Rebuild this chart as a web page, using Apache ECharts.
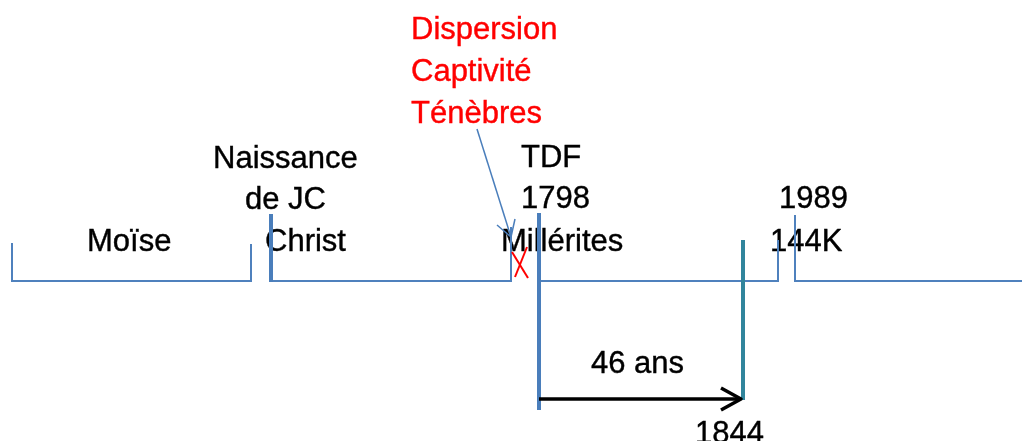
<!DOCTYPE html>
<html>
<head>
<meta charset="utf-8">
<script src="https://cdn.jsdelivr.net/npm/echarts@6/dist/echarts.min.js"></script>
<style>html,body{margin:0;padding:0;background:#fff}#c{width:1022px;height:441px}</style>
</head>
<body>
<div id="c"></div>
<script>
// Diagram geometry, in the chart's own 0..1022 x 0..441 value space
const thinBlueLines = [
  [[12, 243], [12, 281], [251, 281], [251, 244]],
  [[271, 281], [511, 281], [511, 227]],
  [[539, 281], [778, 281], [778, 240]],
  [[795, 215], [795, 281], [1022, 281]]
];
const thickBlueLines = [
  [[271, 214], [271, 282]],
  [[539, 213], [539, 410]]
];
const tealLines = [
  [[743, 240], [743, 400]]
];
const redCross = [
  [[512, 252], [528, 278]],
  [[527, 247], [515, 277]]
];
const pointerArrow = [
  [[477, 129], [511, 237]],
  [[497, 225], [511, 237], [515, 219]]
];
const spanArrow = [
  [[539, 399], [741, 399]],
  [[721, 388], [741, 399], [721, 410]]
];
// Text labels
const labelTexts = ['Dispersion', 'Captivité', 'Ténèbres', 'Naissance', 'de JC', 'Christ', 'Moïse',
  'TDF', '1798', 'Millérites', '1989', '144K', '46 ans', '1844'];
const labelX = [411, 411, 411, 213, 245, 265, 87, 521, 521, 501, 779, 770, 591, 695];
const labelY = [30, 72, 114, 159, 200, 242, 242, 158, 199, 242, 199, 242, 364, 434];
const labelColors = ['#ff0000', '#ff0000', '#ff0000', '#000', '#000', '#000', '#000',
  '#000', '#000', '#000', '#000', '#000', '#000', '#000'];

function linesSeries(data, color, width, join) {
  return {
    type: 'lines',
    coordinateSystem: 'cartesian2d',
    polyline: true,
    silent: true,
    animation: false,
    z: 5,
    lineStyle: { color: color, width: width, opacity: 1, cap: 'butt', join: join || 'miter' },
    data: data.map(c => ({ coords: c }))
  };
}

const chart = echarts.init(document.getElementById('c'), null, { renderer: 'canvas' });
chart.setOption({
  animation: false,
  grid: { left: 0, right: 0, top: 0, bottom: 0 },
  xAxis: { type: 'value', min: 0, max: 1022, show: false },
  yAxis: { type: 'value', min: 0, max: 441, inverse: true, show: false },
  series: [
    {
      type: 'scatter',
      silent: true,
      symbolSize: 0,
      animation: false,
      z: 2,
      label: {
        show: true, position: 'right', distance: 0,
        fontFamily: 'Liberation Sans, Arial, sans-serif', fontSize: 31
      },
      data: labelTexts.map((t, i) => ({
        value: [labelX[i], labelY[i]],
        name: t,
        label: { formatter: t, color: labelColors[i], opacity: 1,
                 textBorderColor: labelColors[i], textBorderWidth: 0.4 }
      }))
    },
    linesSeries(thinBlueLines, '#4f81bd', 2),
    linesSeries(thickBlueLines, '#4a7ebb', 4),
    linesSeries(tealLines, '#31859c', 4),
    linesSeries(redCross, '#ff0000', 2),
    linesSeries(pointerArrow, '#4a7ebb', 1.5, 'round'),
    linesSeries(spanArrow, '#000000', 3.5, 'round')
  ]
});
</script>
</body>
</html>
